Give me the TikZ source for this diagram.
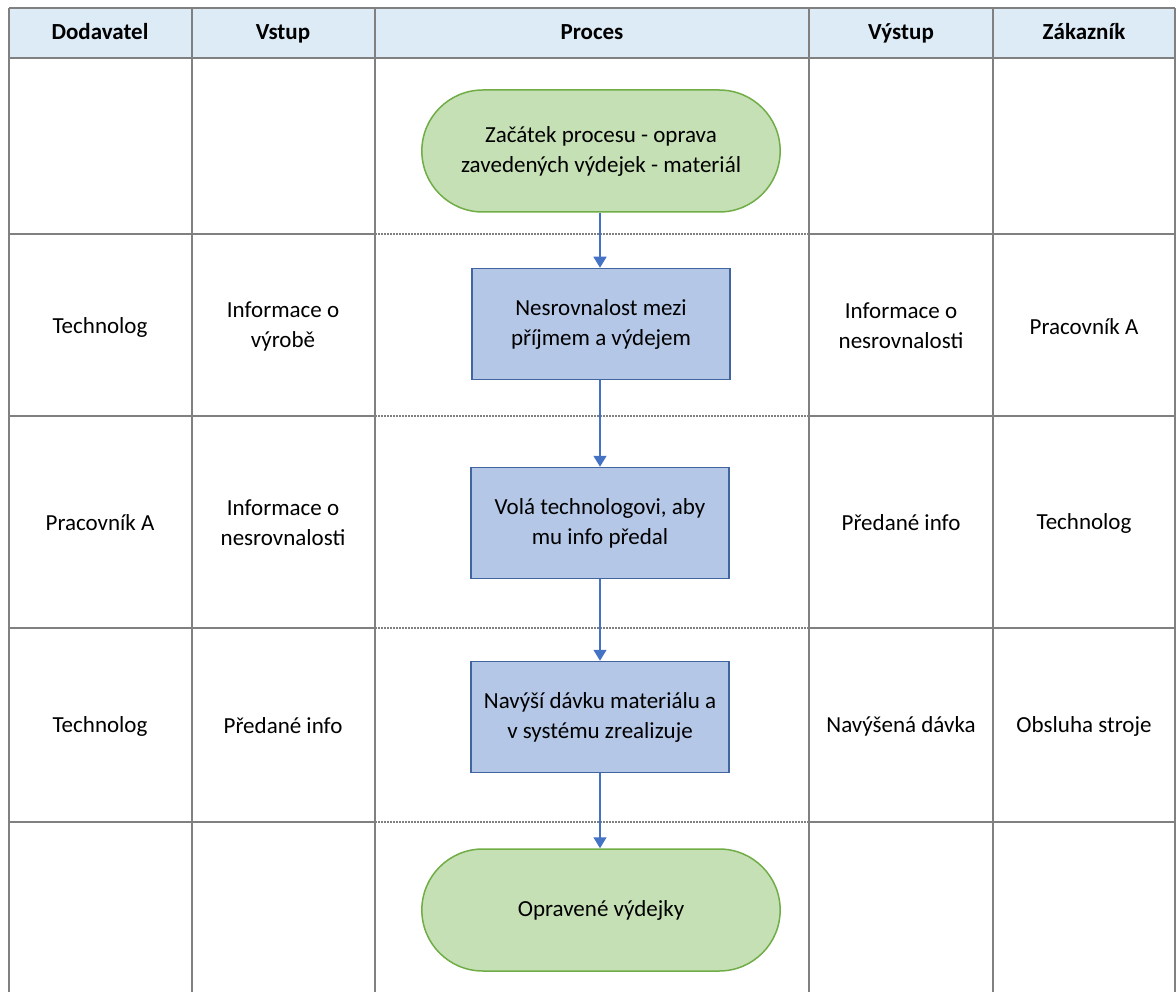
\documentclass[tikz,border=0pt]{standalone}
\usepackage{fontspec}
\setmainfont{Carlito}
\usetikzlibrary{shapes.misc,arrows.meta}

\definecolor{headfill}{HTML}{DDEBF7}
\definecolor{gridgray}{HTML}{808080}
\definecolor{termfill}{HTML}{C5E0B4}
\definecolor{termdraw}{HTML}{70AD47}
\definecolor{procfill}{HTML}{B4C7E7}
\definecolor{procdraw}{HTML}{41659F}
\definecolor{flowblue}{HTML}{4472C4}

\tikzset{
	celltext/.style={align=center,font=\fontsize{23}{30}\selectfont},
	headtext/.style={font=\fontsize{23}{30}\selectfont\bfseries,text height=16pt,text depth=5pt},
	terminal/.style={rounded rectangle,draw=termdraw,fill=termfill,line width=1.5pt,minimum width=365pt,minimum height=122pt,celltext},
	procbox/.style={rectangle,draw=procdraw,fill=procfill,line width=1.5pt,minimum width=258pt,minimum height=111pt,celltext},
	flow/.style={draw=flowblue,line width=1.5pt,-{Triangle[length=11pt,width=13pt]}},
	gridline/.style={draw=gridgray,line width=1.4pt},
	rowline/.style={draw=gridgray,line width=1.2pt,dash pattern=on 1.5pt off 1.5pt}
}

\begin{document}
\begin{tikzpicture}[x=1pt,y=-1pt]
			\useasboundingbox (0,0) rectangle (1176,992);
			
			% Draw header band
			\fill[headfill] (9,8) rectangle (1175,58);
			
			% Draw column lines
			\foreach \cx in {9,192,375,809,993,1175}
				\draw[gridline] (\cx,8) -- (\cx,992);
			\draw[gridline] (9,8) -- (1175,8) (9,58) -- (1175,58);
			
			% Draw row lines (dotted inside the process column)
			\foreach \ry in {234,416,628,822}{
				\draw[gridline] (9,\ry) -- (375,\ry) (809,\ry) -- (1176,\ry);
				\draw[rowline] (375,\ry) -- (809,\ry);
			}
			
			% Header texts
			\node[headtext] (hdod) at (100,34) {Dodavatel};
			\node[headtext] (hvst) at (283,34) {Vstup};
			\node[headtext] (hpro) at (592,34) {Proces};
			\node[headtext] (hvys) at (901,34) {Výstup};
			\node[headtext] (hzak) at (1084,34) {Zákazník};
			
			% Draw process flow
			\node[terminal] (start) at (601,151) {Začátek procesu - oprava\\zavedených výdejek - materiál};
			\node[procbox] (nesrov) at (601,324) {Nesrovnalost mezi\\příjmem a výdejem};
			\node[procbox] (vola) at (600,523) {Volá technologovi, aby\\mu info předal};
			\node[procbox] (navysi) at (600,717) {Navýší dávku materiálu a\\v systému zrealizuje};
			\node[terminal] (konec) at (601,910) {Opravené výdejky};
			
			\draw[flow] (start.south -| 600,0) -- (nesrov.north -| 600,0);
			\draw[flow] (nesrov.south -| 600,0) -- (vola.north -| 600,0);
			\draw[flow] (vola.south -| 600,0) -- (navysi.north -| 600,0);
			\draw[flow] (navysi.south -| 600,0) -- (konec.north -| 600,0);
			
			% Row 1
			\node[celltext] (dod1) at (100,327) {Technolog};
			\node[celltext] (vst1) at (283,326) {Informace o\\výrobě};
			\node[celltext] (vys1) at (901,326) {Informace o\\nesrovnalosti};
			\node[celltext] (zak1) at (1084,327) {Pracovník A};
			
			% Row 2
			\node[celltext] (dod2) at (100,523) {Pracovník A};
			\node[celltext] (vst2) at (283,523) {Informace o\\nesrovnalosti};
			\node[celltext] (vys2) at (901,523) {Předané info};
			\node[celltext] (zak2) at (1084,523) {Technolog};
			
			% Row 3
			\node[celltext] (dod3) at (100,726) {Technolog};
			\node[celltext] (vst3) at (283,726) {Předané info};
			\node[celltext] (vys3) at (901,726) {Navýšená dávka};
			\node[celltext] (zak3) at (1084,726) {Obsluha stroje};
		\end{tikzpicture}
\end{document}
